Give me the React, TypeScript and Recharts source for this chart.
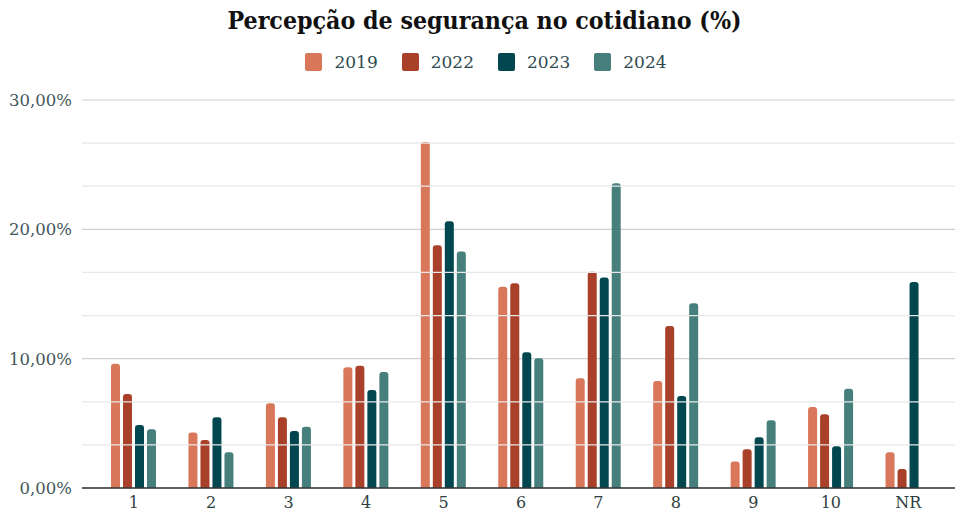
import React from 'react';
import { BarChart, Bar, XAxis, YAxis, CartesianGrid, Legend, ReferenceLine } from 'recharts';

const categories = ['1', '2', '3', '4', '5', '6', '7', '8', '9', '10', 'NR'];
const s2019 = [9.6, 4.3, 6.55, 9.33, 26.76, 15.57, 8.48, 8.27, 2.04, 6.26, 2.76];
const s2022 = [7.27, 3.71, 5.47, 9.46, 18.77, 15.83, 16.73, 12.53, 2.99, 5.7, 1.47];
const s2023 = [4.87, 5.47, 4.41, 7.58, 20.62, 10.49, 16.27, 7.11, 3.92, 3.22, 15.93];
const s2024: (number | null)[] = [4.54, 2.76, 4.74, 8.97, 18.28, 10.03, 23.56, 14.28, 5.23, 7.68, null];
const seriesNames = ['2019', '2022', '2023', '2024'];
const seriesColors = ['#D9775B', '#A9412A', '#02474F', '#477F7C'];
const majorTicks = [0, 10, 20, 30];
const minorTicks = [10 / 3, 20 / 3, 40 / 3, 50 / 3, 70 / 3, 80 / 3];
const title = 'Percepção de segurança no cotidiano (%)';

const data = categories.map((c, i) => ({
  cat: c,
  '2019': s2019[i],
  '2022': s2022[i],
  '2023': s2023[i],
  '2024': s2024[i],
}));

const fmt = (v: number) => v.toFixed(2).replace('.', ',') + '%';

const LegendContent = () => (
  <div style={{ display: 'flex', justifyContent: 'center', alignItems: 'center', fontFamily: '"DejaVu Serif", serif', fontSize: 17, color: '#2f4a4f', paddingLeft: 16 }}>
    {seriesNames.map((n, i) => (
      <div key={n} style={{ display: 'flex', alignItems: 'center', marginLeft: i === 0 ? 0 : 24 }}>
        <div style={{ width: 17, height: 18, background: seriesColors[i], borderRadius: 2, marginRight: 12 }} />
        <span>{n}</span>
      </div>
    ))}
  </div>
);

export default function App() {
  return (
    <div style={{ position: 'absolute', left: 0, top: 0, width: 956, height: 514, background: '#fff' }}>
      <div style={{ position: 'absolute', top: 6, left: 0, width: 956, paddingLeft: 13, boxSizing: 'border-box', textAlign: 'center', fontFamily: '"DejaVu Serif Condensed", "DejaVu Serif", serif', fontWeight: 'bold', fontSize: 24.7, color: '#111' }}>
        {title}
      </div>
      <BarChart width={956} height={514} data={data} margin={{ top: 100, right: 1, bottom: 0, left: 0 }} barSize={9} barGap={3}>
        <CartesianGrid vertical={false} stroke="#cfcfcf" strokeWidth={1.2} />
        {minorTicks.map((t) => (
          <ReferenceLine key={t} y={t} stroke="#e8e8e8" strokeWidth={1.2} />
        ))}
        <XAxis dataKey="cat" padding={{ left: 13, right: 8 }} height={26} tickLine={false} tickSize={0} tickMargin={9}
          axisLine={{ stroke: '#333', strokeWidth: 1.5 }}
          tick={{ fontFamily: '"DejaVu Serif", serif', fontSize: 16, fill: '#2f3f44' }} />
        <YAxis domain={[0, 30]} ticks={majorTicks} width={82} tickLine={false} axisLine={false} tickSize={0} tickMargin={10}
          tickFormatter={fmt} tick={{ fontFamily: '"DejaVu Serif", serif', fontSize: 16.5, fill: '#44575b' }} />
        <Legend verticalAlign="middle" content={LegendContent} wrapperStyle={{ top: 52, left: 0, width: 956 }} />
        {seriesNames.map((n, i) => (
          <Bar key={n} dataKey={n} fill={seriesColors[i]} radius={[3, 3, 0, 0]} isAnimationActive={false} />
        ))}
      </BarChart>
    </div>
  );
}
